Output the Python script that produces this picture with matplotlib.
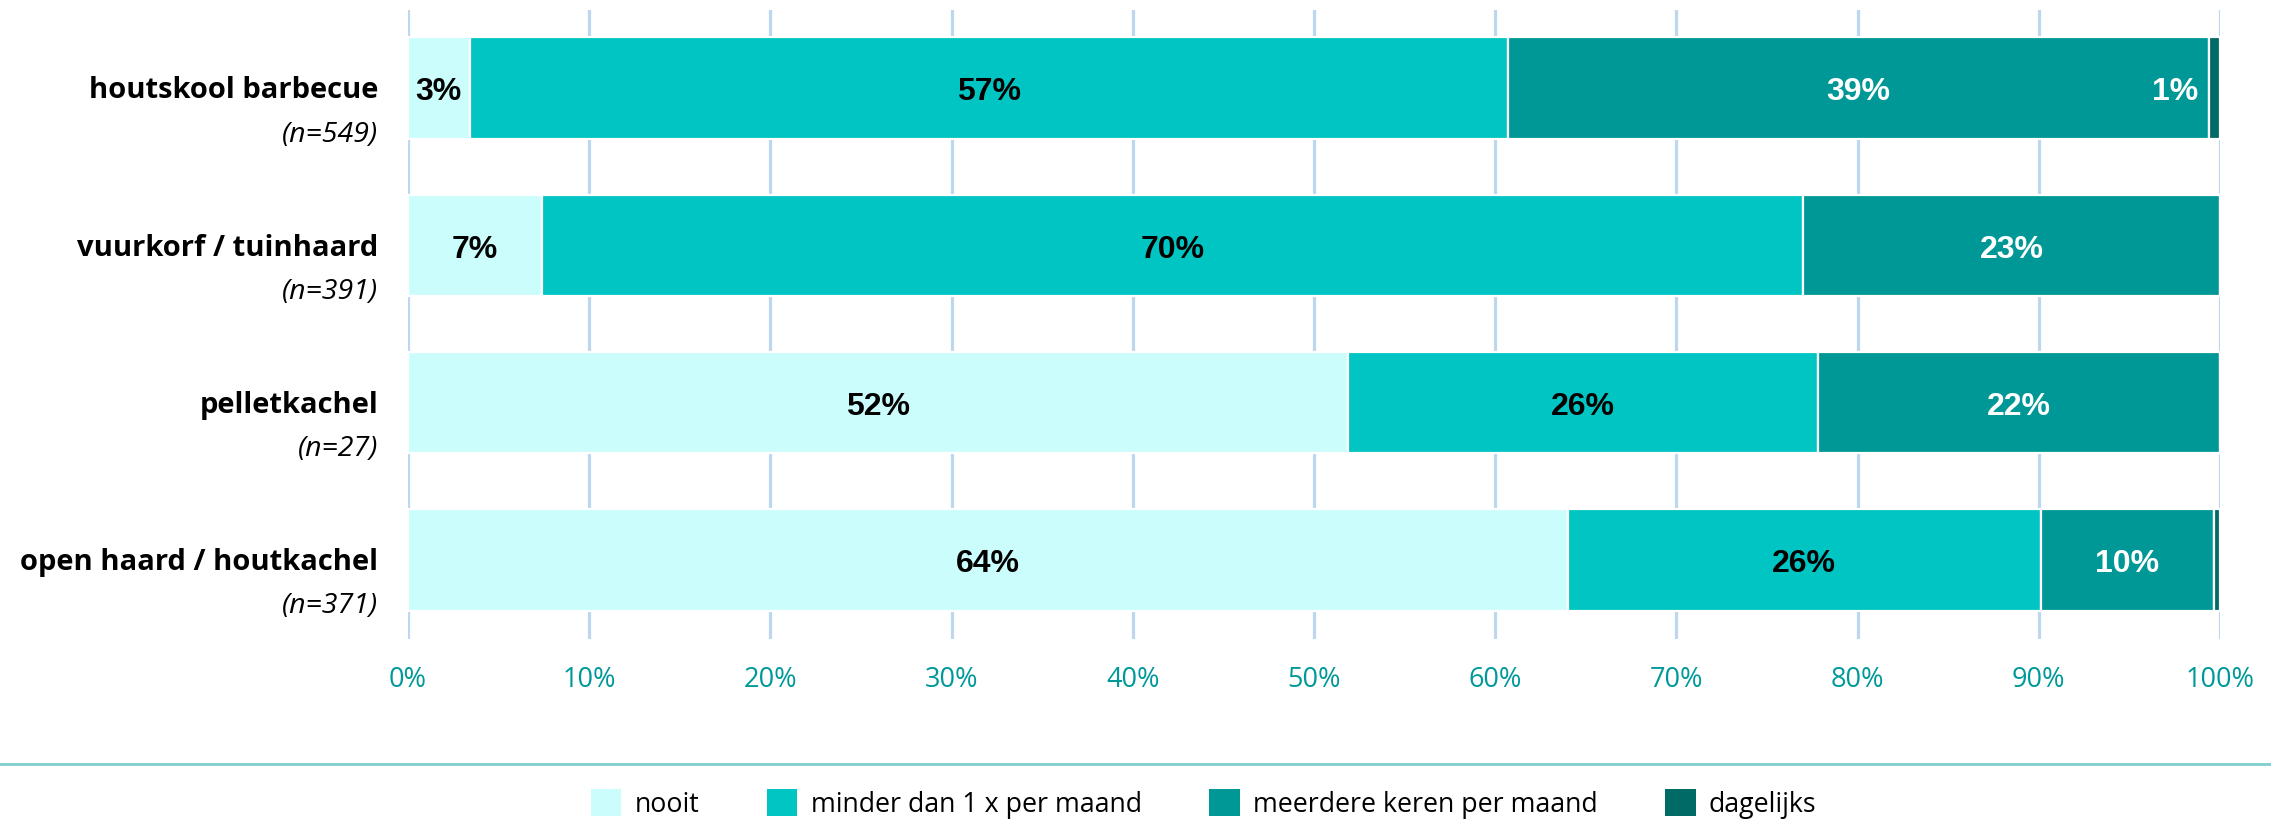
import matplotlib.pyplot as plt
import matplotlib.transforms as mtransforms
from matplotlib.lines import Line2D
from matplotlib.patches import Patch
import numpy as np

# data (percentages per frequency)
categories = ["houtskool barbecue", "vuurkorf / tuinhaard", "pelletkachel", "open haard / houtkachel"]
sample_sizes = ["(n=549)", "(n=391)", "(n=27)", "(n=371)"]
series_names = ["nooit", "minder dan 1 x per maand", "meerdere keren per maand", "dagelijks"]
nooit = [3.4, 7.4, 51.9, 64.0]
minder = [57.3, 69.6, 25.9, 26.1]
meerdere = [38.7, 23.0, 22.2, 9.6]
dagelijks = [0.6, 0.0, 0.0, 0.3]
xticks = [0, 10, 20, 30, 40, 50, 60, 70, 80, 90, 100]

colors = ["#ccfdfd", "#00c5c3", "#009896", "#006a66"]
label_colors = ["black", "black", "white", "white"]

fig = plt.figure(figsize=(22.71, 8.2), dpi=100)
ax = fig.add_axes([0.1797, 0.2201, 0.7978, 0.767])

y = np.arange(len(categories))
left = np.zeros(len(categories))
for vals, col, lcol in zip([nooit, minder, meerdere, dagelijks], colors, label_colors):
    vals = np.array(vals)
    ax.barh(y, vals, left=left, height=0.645, color=col, edgecolor="white",
            linewidth=1.6, zorder=3)
    for yi, v, l in zip(y, vals, left):
        if v < 0.5:
            continue
        if v < 2:
            # too small to hold its label: put it just before the segment
            ax.text(l - 0.6, yi + 0.02, "%d%%" % round(v), ha="right", va="center",
                    color=lcol, fontsize=23, fontweight="bold",
                    family="Liberation Sans", zorder=4)
        else:
            ax.text(l + v / 2, yi + 0.02, "%d%%" % round(v), ha="center", va="center",
                    color=lcol, fontsize=23, fontweight="bold",
                    family="Liberation Sans", zorder=4)
    left = left + vals

ax.set_xlim(0, 100)
ax.set_ylim(3.5, -0.5)
ax.set_xticks(xticks)
ax.set_xticklabels(["%d%%" % t for t in xticks], family="Open Sans",
                   fontsize=19.5, color="#00999a")
ax.tick_params(axis="x", length=0, pad=19)
ax.set_yticks([])
ax.xaxis.grid(True, color="#bdd7ee", linewidth=2.3, zorder=0)
ax.set_axisbelow(True)
for s in ax.spines.values():
    s.set_visible(False)

# category names with sample size below
offset = mtransforms.ScaledTranslation(-30 / 100, 0, fig.dpi_scale_trans)
trans = mtransforms.blended_transform_factory(ax.transAxes, ax.transData) + offset
for yi, name, n in zip(y, categories, sample_sizes):
    ax.text(0, yi + 0.01, name, transform=trans, ha="right", va="center",
            family="Open Sans", fontweight="bold", fontsize=21)
    ax.text(0, yi + 0.29, n, transform=trans, ha="right", va="center",
            family="Open Sans", fontstyle="italic", fontsize=20.5)

# separator line above legend
fig.add_artist(Line2D([0, 1], [0.067, 0.067], transform=fig.transFigure,
                      color="#7fcfcc", linewidth=2))

handles = [Patch(facecolor=c, edgecolor="none") for c in colors]
fig.legend(handles, series_names, loc="center", bbox_to_anchor=(0.53, 0.019),
           ncol=4, frameon=False, prop={"family": "Open Sans", "size": 19.3},
           handlelength=1.15, handleheight=1.2, handletextpad=0.5,
           columnspacing=2.5)

fig.savefig("out.png", dpi=100)
